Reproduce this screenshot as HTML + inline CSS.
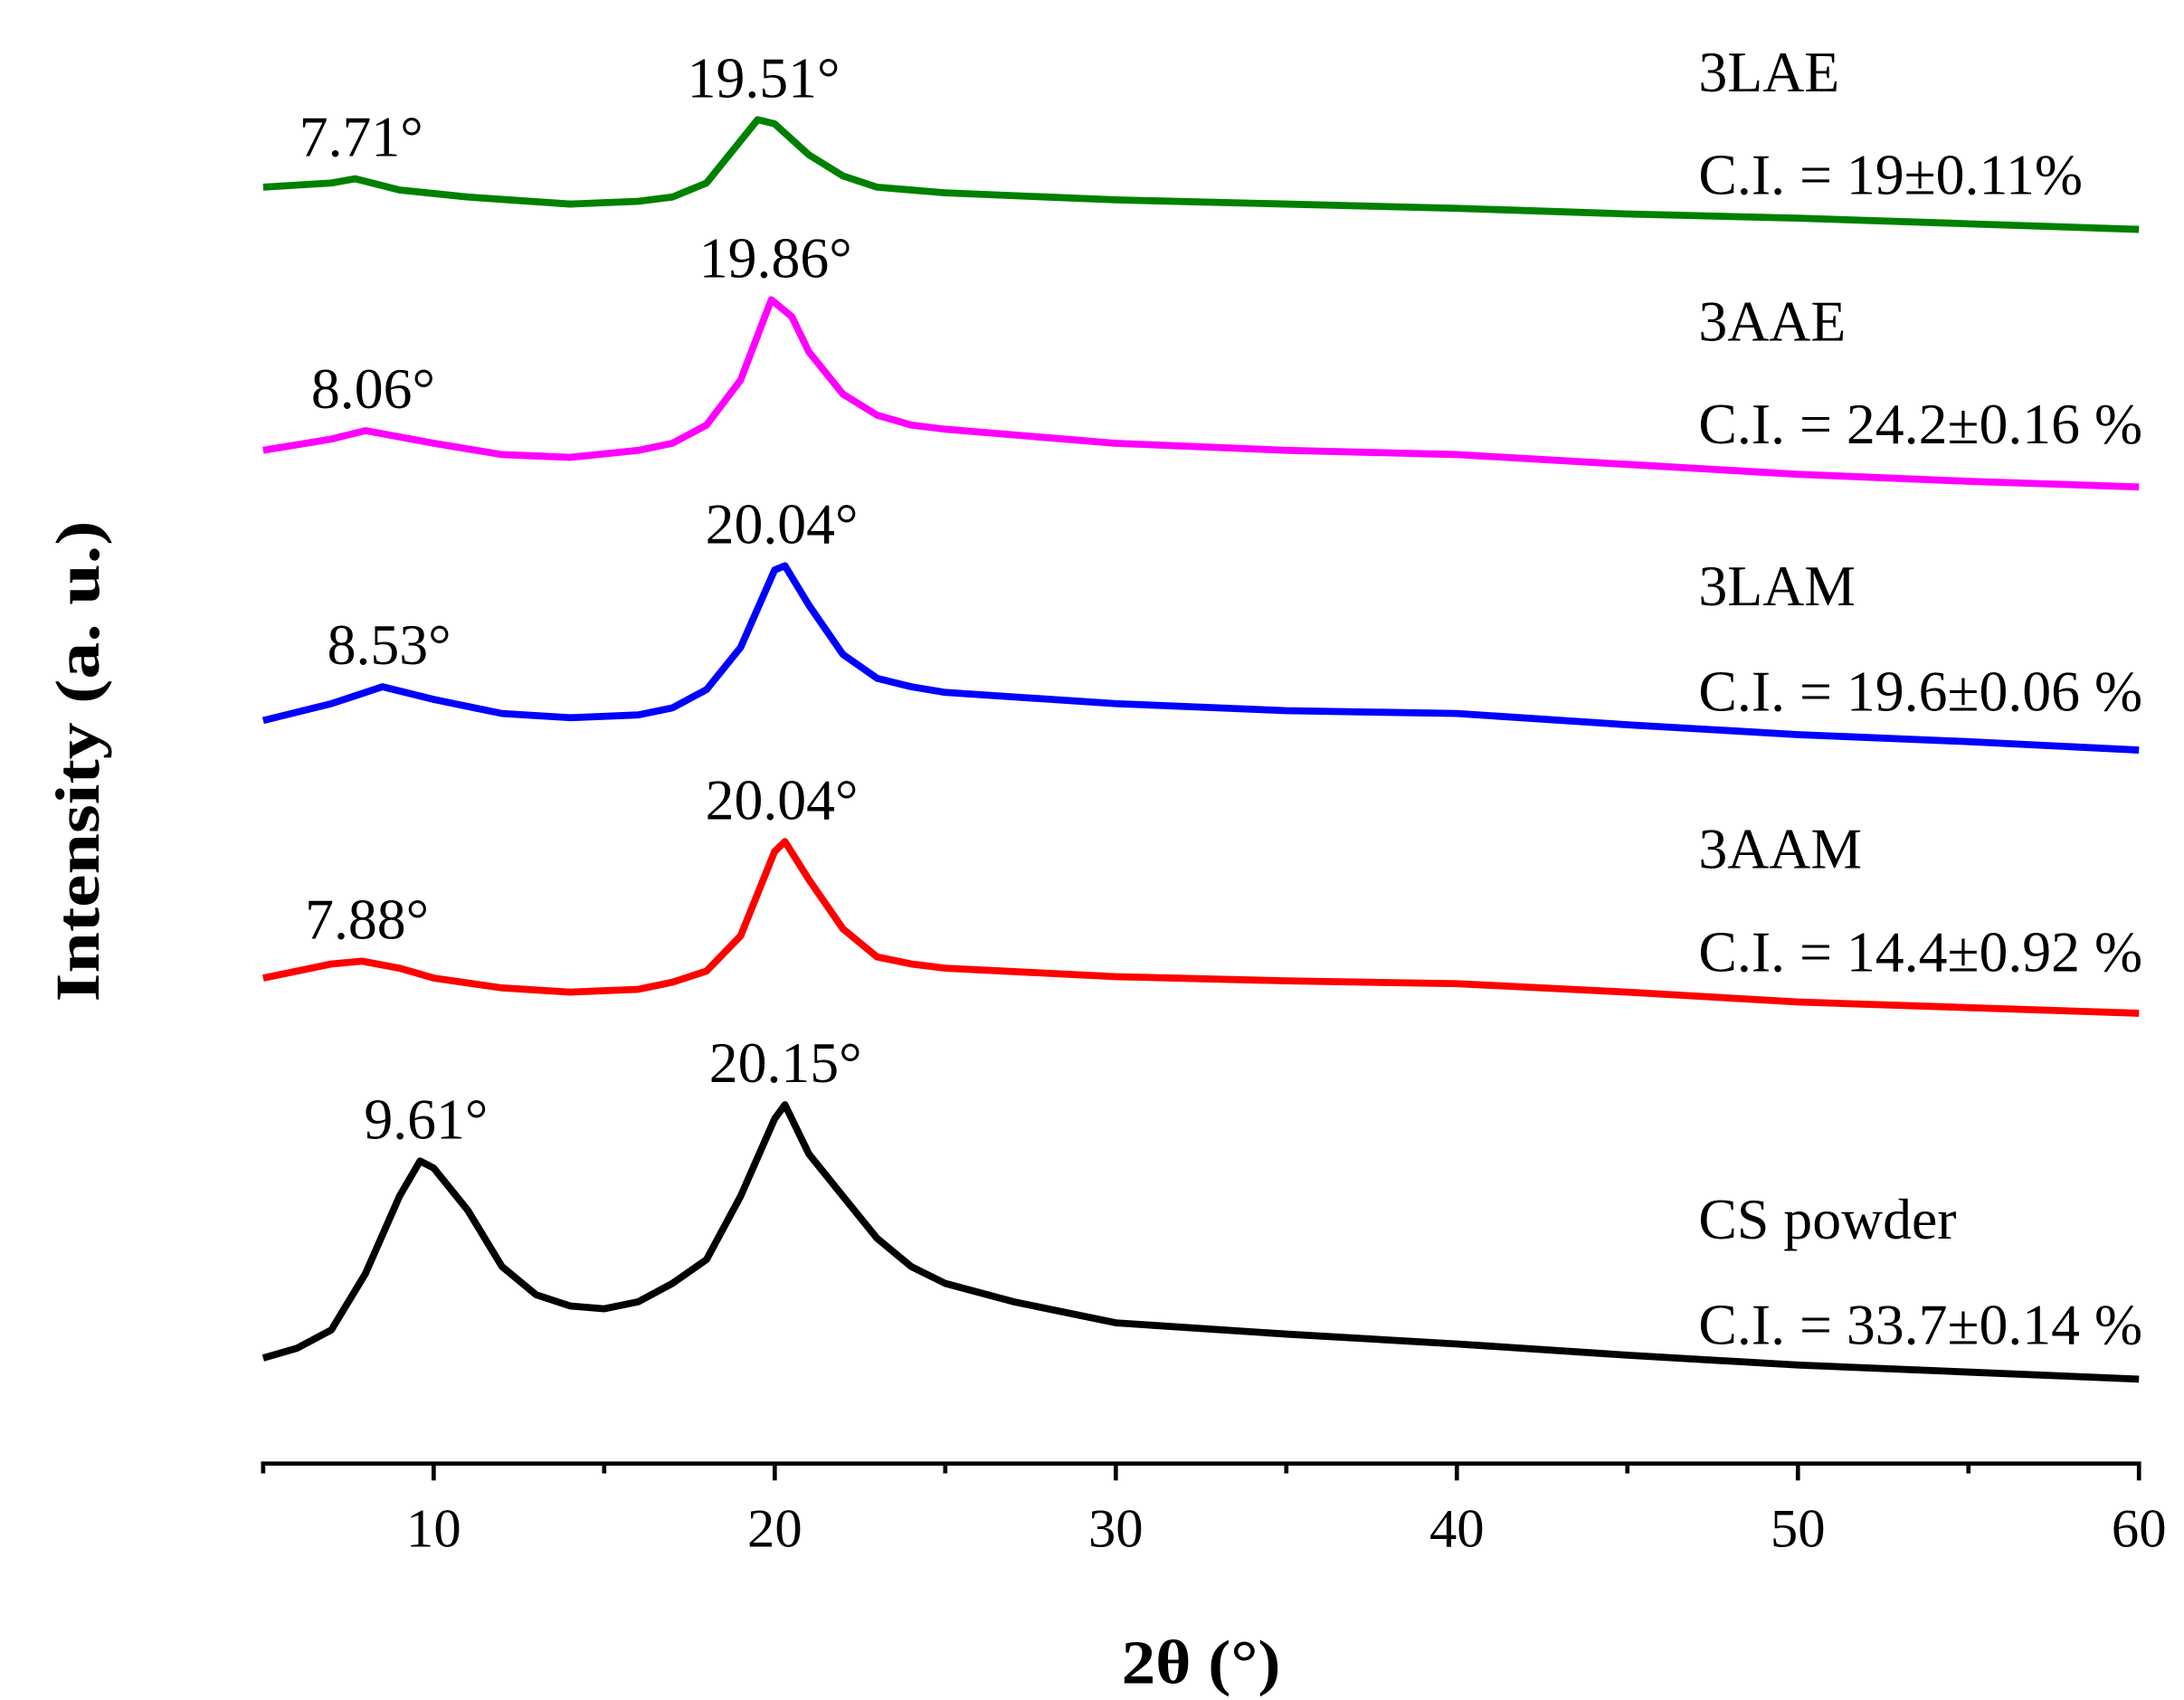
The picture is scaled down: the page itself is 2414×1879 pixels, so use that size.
<!DOCTYPE html>
<html><head><meta charset="utf-8"><style>
html,body{margin:0;padding:0;background:#fff;}
svg{display:block;}
text{font-family:"Liberation Serif",serif;fill:#000;}
</style></head><body>
<svg id="chart" width="2414" height="1879" viewBox="0 0 1552 1208" xmlns="http://www.w3.org/2000/svg">
<rect width="1552" height="1208" fill="#fff"/>
<g id="axis"></g>
<g id="series"></g>
<g id="labels"></g>
<text x="797" y="1196" font-size="44" font-weight="bold" textLength="113" lengthAdjust="spacingAndGlyphs">2θ (°)</text>
<text transform="translate(70,712) rotate(-90)" font-size="44" font-weight="bold" textLength="342" lengthAdjust="spacingAndGlyphs">Intensity (a. u.)</text>
</svg>
<script>
const xTicks = [10, 20, 30, 40, 50, 60];
const xMinor = [5, 15, 25, 35, 45, 55];
const seriesNames = ["3LAE", "3AAE", "3LAM", "3AAM", "CS powder"];
const seriesColors = ["#008000", "#ff00ff", "#0000ff", "#ff0000", "#000000"];
const seriesOffsets = [200, 400, 600, 800, 1000];
const angles3LAE = [5,7,7.7,9,11,14,16,17,18,19,19.5,20,21,22,23,25,30,35,40,45,50,55,60];
const vals3LAE = [67,70,73,65,60,55,57,60,70,100,115,112,90,75,67,63,58,55,52,48,45,41,37];
const angles3AAE = [5,7,8,10,12,14,16,17,18,19,19.9,20.5,21,22,23,24,25,30,35,40,45,50,55,60];
const vals3AAE = [80,88,94,85,77,75,80,85,98,130,187,175,150,120,105,98,95,85,80,77,70,63,58,54];
const angles3LAM = [5,7,8.5,10,12,14,16,17,18,19,20,20.3,21,22,23,24,25,30,35,40,45,50,55,60];
const vals3LAM = [88,100,112,103,93,90,92,97,110,140,195,198,170,135,118,112,108,100,95,93,85,78,73,67];
const angles3AAM = [5,6,7,7.9,9,10,12,14,16,17,18,19,20,20.3,21,22,23,24,25,30,35,40,45,50,55,60];
const vals3AAM = [105,110,115,117,112,105,98,95,97,102,110,135,195,202,175,140,120,115,112,106,103,101,95,88,84,80];
const anglesCS = [5,6,7,8,9,9.6,10,11,12,13,14,15,16,17,18,19,20,20.3,21,22,23,24,25,27,30,35,40,45,50,55,60];
const valsCS = [35,42,55,95,150,175,170,140,100,80,72,70,75,88,105,150,205,215,180,150,120,100,88,75,60,52,45,37,30,25,20];
const seriesAngles = [angles3LAE, angles3AAE, angles3LAM, angles3AAM, anglesCS];
const seriesVals = [vals3LAE, vals3AAE, vals3LAM, vals3AAM, valsCS];
const ciLabels = ["C.I. = 19±0.11%", "C.I. = 24.2±0.16 %", "C.I. = 19.6±0.06 %", "C.I. = 14.4±0.92 %", "C.I. = 33.7±0.14 %"];
const peakLabels = ["19.51°","7.71°","19.86°","8.06°","20.04°","8.53°","20.04°","7.88°","20.15°","9.61°"];
const peakAngles = [19.51,7.71,19.86,8.06,20.04,8.53,20.04,7.88,20.15,9.61];
const peakSeries = [0,0,1,1,2,2,3,3,4,4];

const NS = "http://www.w3.org/2000/svg";
const X0 = 187, X1 = 1520, AXY = 1040;
function xs(a){ return X0 + (a - 5) / 55 * (X1 - X0); }
function ys(i, v){ return seriesOffsets[i] - v; }

const axis = document.getElementById('axis');
function mk(tag, attrs, parent){
  const e = document.createElementNS(NS, tag);
  for (const k in attrs) e.setAttribute(k, attrs[k]);
  parent.appendChild(e); return e;
}
const al = mk('line', {x1: X0-1.5, x2: X1+1.5, y1: AXY, y2: AXY, stroke: '#000', 'stroke-width': 3}, axis);


xTicks.forEach(t => {
  const l = mk('line', {x1: xs(t), x2: xs(t), y1: AXY, y2: AXY + 12, stroke: '#000', 'stroke-width': 3}, axis);
  
  
  const tx = mk('text', {x: xs(t), y: 1099, 'font-size': 39, 'text-anchor': 'middle'}, axis);
  tx.textContent = t;
  
  
});
xMinor.forEach(t => {
  const l = mk('line', {x1: xs(t), x2: xs(t), y1: AXY, y2: AXY + 7, stroke: '#000', 'stroke-width': 3}, axis);
  
  
});
const sg = document.getElementById('series');
seriesNames.forEach((n, i) => {
  const pts = seriesAngles[i].map((a, j) => xs(a).toFixed(1) + ',' + ys(i, seriesVals[i][j]).toFixed(1)).join(' ');
  const p = mk('polyline', {points: pts, fill: 'none', stroke: seriesColors[i], 'stroke-width': 5, 'stroke-linejoin': 'round'}, sg);
  
  
});
const lg = document.getElementById('labels');
const nameY = [65, 242, 430, 617, 880];
const ciY = [138, 315, 505, 690, 955];
seriesNames.forEach((n, i) => {
  const t = mk('text', {x: 1207, y: nameY[i], 'font-size': 41}, lg);
  t.textContent = n;
  
  
  const c = mk('text', {x: 1207, y: ciY[i], 'font-size': 41}, lg);
  c.textContent = ciLabels[i];
  
  
});
peakLabels.forEach((s, k) => {
  const i = peakSeries[k], a = peakAngles[k];
  let maxv = -1e9;
  seriesAngles[i].forEach((aa, j) => { if (Math.abs(aa - a) < 1.3) maxv = Math.max(maxv, seriesVals[i][j]); });
  const t = mk('text', {x: xs(a) + 4, y: ys(i, maxv) - 16, 'font-size': 41, 'text-anchor': 'middle'}, lg);
  t.textContent = s;
  
  
});
</script>
</body></html>
